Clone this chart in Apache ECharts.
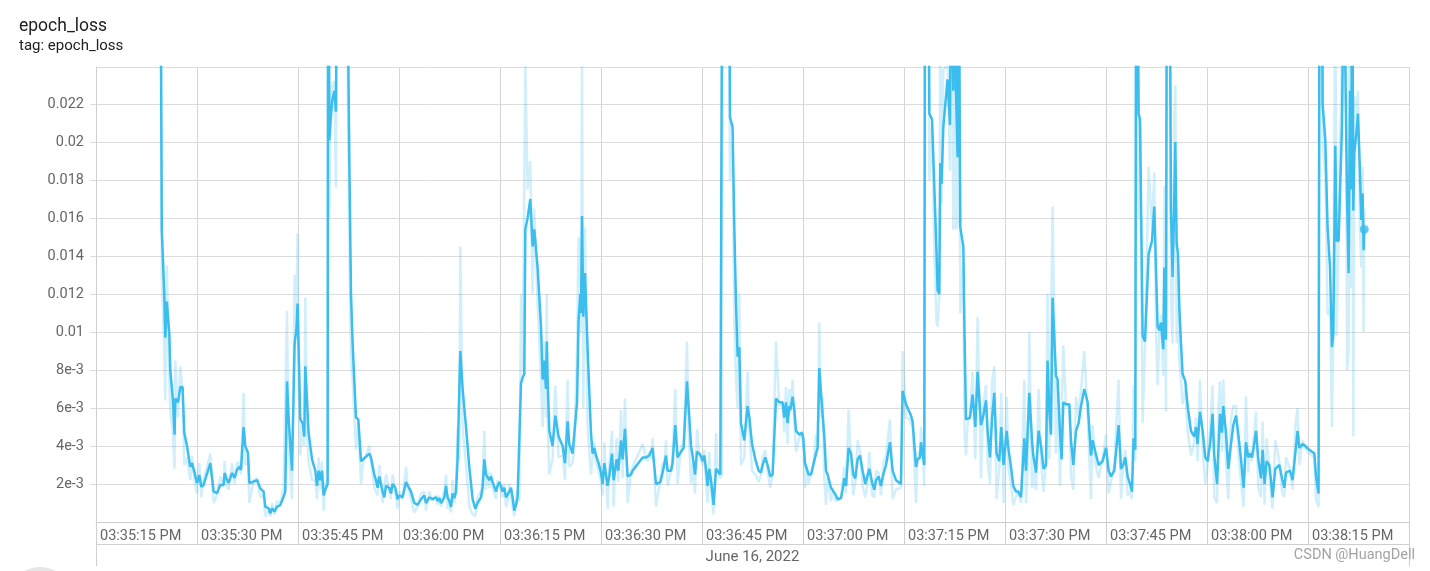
<!DOCTYPE html>
<html><head><meta charset="utf-8">
<script src="https://cdn.jsdelivr.net/npm/echarts/dist/echarts.min.js"></script>
<style>html,body{margin:0;padding:0;background:#fff;}#c{width:1430px;height:571px;}</style>
</head><body><div id="c"></div>
<script>
// seconds after 03:35:15 PM
const times = [
9.47,9.77,10.14,10.29,10.52,10.89,11.03,11.38,11.67,11.78,12.18,12.52,12.86,13.11,13.51,14.00,14.26,14.60,15.00,15.34,
15.64,15.98,16.98,17.47,17.97,18.46,18.95,19.10,19.35,19.69,20.20,20.58,20.94,21.28,21.53,21.92,22.17,22.57,22.77,23.41,
23.91,24.40,24.89,25.14,25.63,25.89,26.14,26.52,26.88,27.37,27.86,28.11,28.37,28.60,29.11,29.50,29.75,29.94,30.09,30.34,
30.68,30.94,31.08,31.34,31.57,32.08,32.57,32.82,33.06,33.31,33.56,33.80,34.05,34.40,34.50,34.65,34.87,35.09,35.39,35.64,
35.84,37.32,37.62,37.87,38.11,38.61,38.95,39.36,39.59,40.59,40.84,41.33,41.58,41.82,42.07,42.33,42.56,42.82,43.07,43.56,
43.81,44.05,44.45,44.79,45.04,45.53,46.04,46.28,46.78,47.27,47.76,48.27,48.76,49.01,49.50,49.99,50.50,50.73,50.99,51.24,
51.73,51.98,52.22,52.47,52.72,52.96,53.21,53.47,53.70,53.96,54.10,54.45,54.95,55.44,55.93,56.33,56.67,57.18,57.42,57.67,
57.92,58.16,58.41,58.66,58.90,59.15,59.41,59.64,59.90,60.15,60.39,60.64,60.89,61.13,61.38,61.63,61.87,62.12,62.38,62.61,
62.87,63.12,63.36,63.61,63.76,64.10,64.50,64.84,65.09,65.58,66.09,66.33,66.58,66.83,66.95,67.07,67.32,67.81,68.21,68.70,
69.30,69.65,70.04,70.29,70.78,71.03,71.44,71.67,71.93,72.03,72.18,72.37,72.62,73.01,73.51,73.75,74.00,74.26,74.64,75.00,
75.24,75.49,75.98,76.23,76.63,76.87,77.32,77.57,77.97,78.21,78.56,78.95,79.46,79.69,81.18,81.68,81.92,82.17,82.43,82.66,
83.17,83.81,84.15,84.40,84.65,84.89,85.40,85.63,86.03,86.38,86.88,87.27,87.77,88.01,88.37,88.60,88.96,89.26,89.60,89.94,
90.09,90.34,90.59,90.83,91.08,91.34,91.72,92.08,92.32,92.72,92.97,93.09,93.98,94.16,94.54,94.80,95.05,95.29,95.54,95.79,
96.28,96.77,97.03,97.43,97.92,98.41,98.76,99.00,99.40,99.74,100.14,100.49,100.99,101.48,101.97,102.22,102.48,102.71,102.97,103.11,
103.46,103.71,103.96,104.45,104.85,105.04,105.30,105.59,105.83,106.19,106.43,106.93,107.17,107.42,107.67,107.91,108.16,108.42,108.65,109.16,
109.40,109.90,110.14,110.64,110.88,111.13,111.39,111.77,112.13,112.47,112.77,113.11,113.47,113.85,114.25,114.50,114.85,115.25,115.59,115.84,
116.23,116.58,116.93,117.33,117.92,118.31,118.81,119.55,119.79,120.30,120.79,121.04,121.28,121.78,122.02,122.38,122.52,122.76,123.01,123.16,
123.61,123.76,124.16,124.50,124.84,124.99,125.24,125.39,125.58,125.84,126.24,126.47,126.83,126.98,127.32,127.47,127.72,127.96,128.14,128.36,
128.81,129.00,129.21,129.45,129.80,130.19,130.59,130.93,131.44,131.78,132.18,132.42,132.77,133.07,133.41,133.75,134.15,134.45,134.79,135.24,
135.53,135.89,136.23,136.63,136.97,137.38,137.87,138.12,138.36,138.61,139.01,139.20,139.60,139.99,140.35,140.73,141.09,141.32,141.58,141.83,
142.07,142.57,142.81,143.17,143.41,143.66,144.06,144.30,144.55,144.80,145.14,145.54,145.93,146.29,146.78,147.27,147.77,148.01,148.41,148.90,
149.50,150.00,150.39,150.74,151.23,151.87,152.23,152.57,152.87,153.21,153.57,153.86,154.10,154.35,154.53,154.84,155.05,155.44,155.79,156.33,
156.83,157.17,157.42,157.66,157.91,158.17,158.51,158.66,158.91,159.10,159.40,159.65,159.89,160.14,160.29,160.49,160.69,160.89,161.14,161.37,
161.78,162.12,162.62,163.11,163.37,163.60,163.96,164.35,164.75,165.09,165.49,165.83,166.08,166.49,166.72,166.93,167.23,167.42,167.82,168.16,
168.56,168.91,169.31,169.69,170.05,170.44,170.79,171.13,171.39,171.68,171.88,172.28,172.62,173.02,173.26,173.55,173.85,174.25,174.50,174.74,
175.14,175.74,176.14,176.48,176.73,177.33,177.71,178.11,178.45,178.71,179.20,179.60,180.19,180.94,181.19,181.57,
181.75,182.05,182.17,182.57,182.91,183.27,183.56,183.76,184.05,184.25,184.55,184.75,185.05,185.32,185.61,185.79,186.03,186.24,186.39,186.58,186.73,186.88,187.13,187.42,187.72,187.91,188.11,188.26,188.36
];
const smoothed = [
0.040,0.0154,0.0120,0.0097,0.0116,0.0099,0.0080,0.0066,0.0046,0.0065,0.0063,0.0071,0.0071,0.0047,0.0040,0.0029,0.0031,0.00265,0.00205,0.00247,
0.00186,0.00195,0.0031,0.0016,0.00152,0.00195,0.00195,0.00258,0.00232,0.00205,0.00258,0.00232,0.00274,0.00291,0.00274,0.0050,0.0040,0.00363,0.00205,0.00212,
0.00221,0.00177,0.0016,0.00081,0.00072,0.00046,0.00072,0.00054,0.00081,0.00089,0.00133,0.0016,0.0074,0.0055,0.0027,0.0094,0.0101,0.0115,0.0092,0.0054,
0.0052,0.0045,0.0082,0.0064,0.0047,0.0033,0.0027,0.0019,0.0027,0.0022,0.0027,0.0014,0.0017,0.0020,0.040,0.0201,0.0213,0.0222,0.0227,0.0216,
0.035,0.030,0.0191,0.0120,0.0094,0.0055,0.0054,0.0032,0.0031,0.0036,0.0034,0.0025,0.0022,0.0018,0.0024,0.0023,0.0016,0.0013,0.0019,0.0018,
0.0015,0.0020,0.0018,0.0012,0.0014,0.0013,0.0021,0.0020,0.0016,0.0010,0.0009,0.0012,0.0014,0.0010,0.0013,0.0012,0.0013,0.0011,0.00125,0.0010,
0.0013,0.0019,0.0013,0.0011,0.0008,0.0015,0.00125,0.0016,0.0033,0.0033,0.0090,0.0070,0.0050,0.0029,0.0012,0.0007,0.0010,0.0013,0.0018,0.0033,
0.0025,0.0026,0.0022,0.0024,0.0021,0.0020,0.0016,0.0019,0.0021,0.0019,0.0016,0.0018,0.0013,0.0012,0.0016,0.0018,0.0013,0.0006,0.0009,0.0013,
0.0012,0.0073,0.0076,0.0078,0.0154,0.0160,0.0170,0.0145,0.0154,0.0134,0.0103,0.0075,0.0085,0.0070,0.0095,0.0075,0.0048,0.0040,0.0056,0.0045,
0.0040,0.0031,0.0053,0.0041,0.0036,0.0037,0.0063,0.0106,0.0120,0.0110,0.0161,0.0108,0.0131,0.0091,0.0047,0.0036,0.0039,0.0035,0.0031,0.0026,
0.0020,0.0031,0.0019,0.0024,0.0036,0.0022,0.0033,0.0027,0.0043,0.0033,0.0049,0.0024,0.0025,0.0027,0.0034,0.0034,0.0033,0.0035,0.0034,0.0039,
0.0020,0.0021,0.0026,0.0027,0.0035,0.0027,0.0027,0.0031,0.0051,0.0034,0.0037,0.0039,0.0074,0.0061,0.0040,0.0035,0.0025,0.0037,0.0036,0.0034,
0.0032,0.0035,0.0028,0.0019,0.0028,0.0022,0.0009,0.0028,0.0027,0.0025,0.0025,0.040,0.035,0.0213,0.0208,0.0155,0.0115,0.0087,0.0092,0.0052,
0.0043,0.0061,0.0055,0.0041,0.0033,0.0027,0.0026,0.0030,0.0034,0.0030,0.0024,0.0025,0.0065,0.0063,0.0063,0.0055,0.0063,0.0052,0.0061,0.0059,
0.0066,0.0059,0.0048,0.0046,0.0047,0.0044,0.0031,0.0030,0.0025,0.0025,0.0026,0.0036,0.0039,0.0081,0.0068,0.0067,0.0045,0.0027,0.0025,0.0018,
0.0017,0.0014,0.0012,0.00125,0.0017,0.0023,0.0019,0.0039,0.0036,0.0025,0.0023,0.0033,0.0035,0.0027,0.0020,0.0019,0.0028,0.0021,0.0017,0.0022,
0.0024,0.0019,0.0025,0.0030,0.0042,0.0027,0.0022,0.0020,0.0069,0.0062,0.0058,0.0056,0.0053,0.0029,0.0033,0.0034,0.0042,0.0041,0.0030,0.040,
0.035,0.0215,0.0212,0.0177,0.0141,0.0122,0.0120,0.0189,0.0178,0.0208,0.0224,0.0233,0.0209,0.030,0.0227,0.030,0.0227,0.0192,0.030,0.0155,
0.0145,0.0096,0.0054,0.0053,0.0055,0.0067,0.0050,0.0079,0.0051,0.0056,0.0064,0.0048,0.0034,0.0054,0.0068,0.0036,0.0032,0.0050,0.0030,0.0048,
0.0038,0.0029,0.0019,0.0016,0.0016,0.0013,0.0044,0.0027,0.0027,0.0068,0.0043,0.0035,0.0026,0.0048,0.0040,0.0028,0.0030,0.0085,0.0059,0.0046,
0.0118,0.0077,0.0075,0.0047,0.0033,0.0063,0.0062,0.0062,0.0062,0.0043,0.0030,0.0048,0.0052,0.0061,0.0070,0.0063,0.0035,0.0043,0.0037,0.0030,
0.0032,0.0039,0.0027,0.0024,0.0027,0.0051,0.0028,0.0030,0.0034,0.0024,0.0020,0.0016,0.0044,0.0038,0.040,0.0215,0.0212,0.0098,0.0095,0.0141,
0.0148,0.0166,0.0134,0.0103,0.0101,0.0105,0.0091,0.0134,0.0096,0.040,0.035,0.0164,0.0129,0.0170,0.0200,0.0147,0.0141,0.0113,0.0094,0.0078,
0.0074,0.0061,0.0048,0.0045,0.0050,0.0041,0.0058,0.0048,0.0034,0.0032,0.0042,0.0057,0.0035,0.0020,0.0040,0.0057,0.0047,0.0061,0.0047,0.0028,
0.0041,0.0051,0.0056,0.0045,0.0033,0.0018,0.0042,0.0034,0.0036,0.0034,0.0038,0.0048,0.0033,0.0023,0.0038,0.0020,0.0032,0.0030,0.0022,0.0013,
0.0028,0.0030,0.0023,0.0018,0.0026,0.0027,0.0022,0.0036,0.0048,0.0039,0.0041,0.0040,0.0038,0.0036,0.0024,0.0015,
0.040,0.035,0.0220,0.0201,0.0155,0.0134,0.0092,0.0099,0.0198,0.0148,0.0148,0.0173,0.0208,0.030,0.030,0.0173,0.0131,0.0227,0.0175,0.030,0.0164,0.0194,0.0203,0.0215,0.0184,0.0159,0.0173,0.0143,0.0154
];
const raw = [
0.045,0.013,0.009,0.0064,0.0135,0.0075,0.0058,0.0048,0.0028,0.0085,0.0055,0.0082,0.0068,0.0030,0.0034,0.0022,0.0035,0.0022,0.0015,0.0031,
0.0013,0.0022,0.0036,0.0010,0.0014,0.0024,0.0019,0.0032,0.0020,0.0017,0.0031,0.0020,0.0031,0.0031,0.0025,0.0068,0.0030,0.0033,0.0010,0.0022,
0.0023,0.0013,0.0014,0.0003,0.0006,0.0003,0.0010,0.0004,0.0011,0.0010,0.0018,0.0019,0.0111,0.0040,0.0012,0.0130,0.0108,0.0152,0.0075,0.0035,
0.0050,0.0040,0.0118,0.0048,0.0032,0.0022,0.0022,0.0012,0.0034,0.0017,0.0032,0.0006,0.0020,0.0023,0.050,0.016,0.0225,0.0230,0.0232,0.0176,
0.045,0.026,0.015,0.0085,0.0075,0.0038,0.0052,0.0020,0.0030,0.0040,0.0032,0.0018,0.0019,0.0014,0.0030,0.0022,0.0010,0.0010,0.0025,0.0017,
0.0012,0.0025,0.0016,0.0007,0.0016,0.0012,0.0029,0.0019,0.0012,0.0005,0.0008,0.0015,0.0016,0.0006,0.0016,0.0011,0.0014,0.0009,0.0014,0.0008,
0.0016,0.0025,0.0007,0.0009,0.0005,0.0022,0.0010,0.0019,0.0050,0.0033,0.0145,0.0050,0.0030,0.0008,0.0004,0.0003,0.0013,0.0016,0.0023,0.0048,
0.0017,0.0027,0.0018,0.0026,0.0018,0.0019,0.0012,0.0022,0.0023,0.0017,0.0013,0.0020,0.0008,0.0011,0.0020,0.0020,0.0008,0.0003,0.0012,0.0017,
0.0011,0.0120,0.0079,0.0080,0.0240,0.0175,0.0190,0.0120,0.0165,0.0115,0.0075,0.0050,0.0095,0.0055,0.0120,0.0055,0.0025,0.0033,0.0072,0.0034,
0.0035,0.0022,0.0075,0.0029,0.0031,0.0038,0.0090,0.0150,0.0135,0.0100,0.0240,0.0060,0.0155,0.0050,0.0025,0.0025,0.0042,0.0031,0.0027,0.0021,
0.0014,0.0042,0.0007,0.0029,0.0048,0.0008,0.0044,0.0021,0.0059,0.0023,0.0065,0.0010,0.0026,0.0029,0.0041,0.0034,0.0032,0.0037,0.0033,0.0044,
0.0008,0.0022,0.0031,0.0028,0.0043,0.0019,0.0027,0.0035,0.0070,0.0020,0.0040,0.0041,0.0095,0.0048,0.0020,0.0030,0.0015,0.0049,0.0035,0.0032,
0.0030,0.0038,0.0021,0.0010,0.0037,0.0016,0.0004,0.0047,0.0026,0.0023,0.0025,0.050,0.030,0.0180,0.0200,0.0105,0.0075,0.0060,0.0120,0.0030,
0.0034,0.0079,0.0049,0.0027,0.0025,0.0021,0.0025,0.0034,0.0038,0.0026,0.0018,0.0026,0.0095,0.0061,0.0063,0.0047,0.0071,0.0041,0.0070,0.0057,
0.0075,0.0052,0.0037,0.0044,0.0048,0.0041,0.0018,0.0029,0.0020,0.0025,0.0027,0.0046,0.0042,0.0105,0.0055,0.0066,0.0023,0.0009,0.0023,0.0011,
0.0016,0.0011,0.0010,0.0013,0.0021,0.0029,0.0015,0.0059,0.0033,0.0014,0.0021,0.0043,0.0037,0.0019,0.0013,0.0018,0.0037,0.0014,0.0013,0.0027,
0.0026,0.0014,0.0031,0.0035,0.0054,0.0012,0.0017,0.0018,0.0090,0.0055,0.0054,0.0054,0.0050,0.0010,0.0037,0.0035,0.0050,0.0040,0.0019,0.050,
0.030,0.0180,0.0209,0.0142,0.0105,0.0103,0.0118,0.0258,0.0167,0.0238,0.0240,0.0242,0.0185,0.039,0.0154,0.037,0.0154,0.0157,0.040,0.0110,
0.0135,0.0047,0.0035,0.0052,0.0057,0.0079,0.0033,0.0108,0.0023,0.0061,0.0072,0.0032,0.0020,0.0074,0.0082,0.0012,0.0028,0.0068,0.0010,0.0066,
0.0028,0.0020,0.0009,0.0013,0.0016,0.0010,0.0075,0.0010,0.0027,0.0100,0.0018,0.0027,0.0017,0.0070,0.0032,0.0016,0.0032,0.0120,0.0033,0.0033,
0.0166,0.0036,0.0073,0.0019,0.0019,0.0093,0.0061,0.0062,0.0062,0.0024,0.0017,0.0066,0.0056,0.0070,0.0090,0.0056,0.0012,0.0051,0.0031,0.0023,
0.0034,0.0046,0.0015,0.0021,0.0030,0.0075,0.0012,0.0032,0.0038,0.0014,0.0016,0.0012,0.0072,0.0032,0.050,0.0160,0.0209,0.0052,0.0092,0.0187,
0.0155,0.0184,0.0102,0.0072,0.0099,0.0109,0.0077,0.0177,0.0058,0.050,0.030,0.0120,0.0094,0.0211,0.0230,0.0094,0.0135,0.0085,0.0075,0.0062,
0.0070,0.0048,0.0035,0.0042,0.0055,0.0032,0.0075,0.0038,0.0020,0.0030,0.0052,0.0072,0.0013,0.0010,0.0060,0.0074,0.0037,0.0075,0.0033,0.0012,
0.0054,0.0061,0.0061,0.0034,0.0021,0.0008,0.0066,0.0026,0.0038,0.0032,0.0042,0.0058,0.0018,0.0013,0.0053,0.0009,0.0044,0.0028,0.0014,0.0007,
0.0043,0.0032,0.0016,0.0013,0.0034,0.0028,0.0017,0.0050,0.0060,0.0030,0.0043,0.0039,0.0036,0.0034,0.0012,0.0008,
0.050,0.030,0.0200,0.0182,0.0109,0.0113,0.0050,0.0106,0.0297,0.0098,0.0148,0.0198,0.0243,0.039,0.030,0.0080,0.0089,0.0323,0.0123,0.040,0.0045,0.0224,0.0212,0.0227,0.0153,0.0134,0.0187,0.0100,0.0165
];
const xTickLabels = ['03:35:15 PM','03:35:30 PM','03:35:45 PM','03:36:00 PM','03:36:15 PM','03:36:30 PM','03:36:45 PM','03:37:00 PM','03:37:15 PM','03:37:30 PM','03:37:45 PM','03:38:00 PM','03:38:15 PM'];
const dateLabel = 'June 16, 2022';
const titleText = 'epoch_loss';
const subtitleText = 'tag: epoch_loss';
const watermark = 'CSDN @HuangDell';

const LINE = '#3bbdee';
const G = {left: 96, top: 67, width: 1313, height: 455};
const Y_MAX = 0.02395, X_MAX = 195;
const FONT = 'Roboto, "Noto Sans", sans-serif';

function fmtY(v) {
  if (v >= 0.0095) return String(+v.toFixed(3));
  return Math.round(v * 1000) + 'e-3';
}

const n = Math.min(times.length, smoothed.length, raw.length);
const rawData = [], smData = [];
for (let i = 0; i < n; i++) { rawData.push([times[i], raw[i]]); smData.push([times[i], smoothed[i]]); }

const bottomY = G.top + G.height;
const rightX = G.left + G.width;
const graphics = [
  {type:'text', x:19, y:27, style:{text:titleText, font:'17.5px ' + FONT, fill:'#212121', verticalAlign:'middle'}},
  {type:'text', x:19, y:46, style:{text:subtitleText, font:'15px ' + FONT, fill:'#212121', verticalAlign:'middle'}},
  {type:'line', shape:{x1:G.left, y1:bottomY + 22.5, x2:rightX + 0.5, y2:bottomY + 22.5}, style:{stroke:'#cfcfcf', lineWidth:1}},
  {type:'line', shape:{x1:G.left + 0.5, y1:bottomY, x2:G.left + 0.5, y2:bottomY + 44}, style:{stroke:'#cfcfcf', lineWidth:1}},
  {type:'line', shape:{x1:rightX + 0.5, y1:bottomY, x2:rightX + 0.5, y2:bottomY + 44}, style:{stroke:'#cfcfcf', lineWidth:1}},
  {type:'text', x:G.left + G.width / 2, y:557, style:{text:dateLabel, font:'15px ' + FONT, fill:'#666', align:'center', verticalAlign:'middle'}},
  {type:'text', x:1415, y:555, style:{text:watermark, font:'14.5px ' + FONT, fill:'#a3a3a3', align:'right', verticalAlign:'middle'}},
  {type:'circle', shape:{cx:40, cy:597, r:30}, style:{fill:'#e6e6e6'}}
];
if (times.length !== smoothed.length || times.length !== raw.length) {
  graphics.push({type:'text', x:600, y:30, style:{text:'LEN ' + times.length + ' ' + smoothed.length + ' ' + raw.length, font:'20px sans-serif', fill:'red'}});
}

const chart = echarts.init(document.getElementById('c'), null, {renderer:'canvas'});
chart.setOption({
  animation: false,
  backgroundColor: '#fff',
  grid: {left:G.left, top:G.top, width:G.width, height:G.height, containLabel:false},
  xAxis: {
    type:'value', min:0, max:X_MAX, interval:15,
    axisLine:{show:true, lineStyle:{color:'#cfcfcf'}},
    axisTick:{show:true, length:22, lineStyle:{color:'#cfcfcf'}},
    splitLine:{show:true, lineStyle:{color:'#d6d6d6'}},
    axisLabel:{formatter:(v)=> xTickLabels[Math.round(v / 15)] || '', align:'left', padding:[0,0,0,4], margin:7, color:'#666', fontSize:14.5, fontFamily:FONT, showMaxLabel:false, hideOverlap:false}
  },
  yAxis: {
    type:'value', min:0, max:Y_MAX, interval:0.002,
    axisLine:{show:true, lineStyle:{color:'#cfcfcf'}},
    axisTick:{show:true, length:6, lineStyle:{color:'#dcdcdc'}},
    splitLine:{show:true, lineStyle:{color:'#dcdcdc'}},
    axisLabel:{formatter:fmtY, color:'#666', fontSize:14.5, fontFamily:FONT, margin:12, showMinLabel:false, showMaxLabel:false}
  },
  series: [
    {type:'line', data:rawData, showSymbol:false, symbol:'none', silent:true, z:2, clip:true,
     lineStyle:{color:LINE, width:2.5, opacity:0.24}},
    {type:'line', data:smData, showSymbol:false, symbol:'none', z:3, clip:true,
     lineStyle:{color:LINE, width:2.5}},
    {type:'scatter', data:[[times[n - 1], smoothed[n - 1]]], symbolSize:9, itemStyle:{color:LINE}, z:4}
  ],
  graphic: graphics
});
</script>
</body></html>
